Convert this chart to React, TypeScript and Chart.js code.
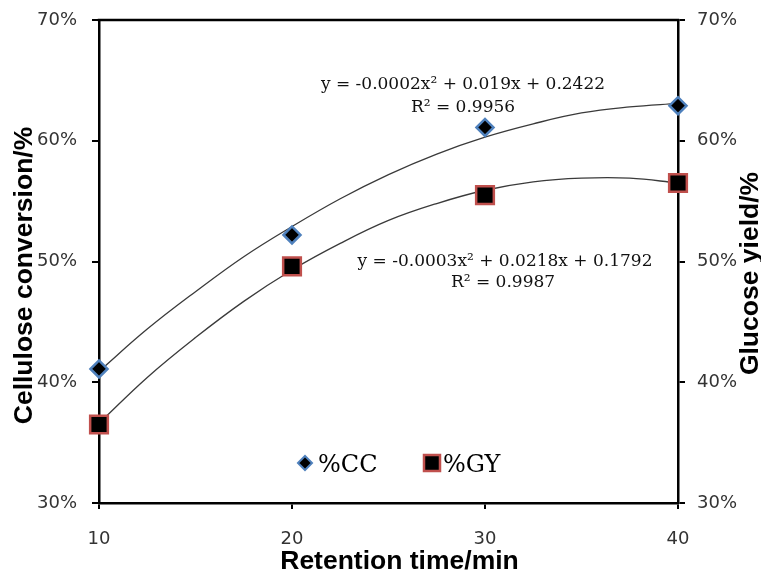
import React, { useEffect, useRef } from 'react';
import { Chart, registerables } from 'chart.js';

Chart.register(...registerables);

// ---- data ----
const retentionTime = [10, 20, 30, 40];
const ccValues = [41.1, 52.2, 61.1, 62.9];
const gyValues = [36.5, 49.6, 55.5, 56.5];

// polynomial trend lines
const trendX = [10, 12.5, 15, 17.5, 20, 22.5, 25, 27.5, 30, 32.5, 35, 37.5, 40];
const ccTrend = [40.9, 44.4, 47.5, 50.4, 52.9, 55.2, 57.2, 58.9, 60.3, 61.4, 62.3, 62.8, 63.1];
const gyTrend = [36.6, 40.4, 43.7, 46.7, 49.3, 51.5, 53.4, 54.8, 55.9, 56.6, 56.9, 56.9, 56.5];

const xMin = 10;
const xMax = 40;
const xStep = 10;
const yMin = 30;
const yMax = 70;
const yStep = 10;

const seriesLabels = ['%CC', '%GY'];
const ccEquation = ['y = -0.0002x² + 0.019x + 0.2422', 'R² = 0.9956'];
const gyEquation = ['y = -0.0003x² + 0.0218x + 0.1792', 'R² = 0.9987'];
const xTitle = 'Retention time/min';
const yTitle = 'Cellulose conversion/%';
const y2Title = 'Glucose yield/%';

const CC_FILL = '#000000';
const CC_BORDER = '#4f81bd';
const GY_FILL = '#000000';
const GY_BORDER = '#c0504d';
const TICK_COLOR = '#333333';
const TREND_COLOR = '#3a3a3a';

const TITLE_FONT = 'bold 26.5px "Liberation Sans", Arial, sans-serif';
const SERIF_FONT = '17px "DejaVu Serif", serif';
const LEGEND_FONT = '24px "DejaVu Serif", serif';

const decorations = {
  id: 'decorations',
  beforeDatasetsDraw(chart: any) {
    const { ctx, chartArea } = chart;
    ctx.save();
    ctx.strokeStyle = '#000';
    ctx.lineWidth = 2.5;
    ctx.beginPath();
    ctx.moveTo(chartArea.left - 1.25, chartArea.top);
    ctx.lineTo(chartArea.right + 1.25, chartArea.top);
    ctx.stroke();
    ctx.restore();
  },
  afterDraw(chart: any) {
    const { ctx, chartArea } = chart;
    const { left, right, top, bottom } = chartArea;
    ctx.save();
    ctx.fillStyle = '#000';
    ctx.font = TITLE_FONT;
    ctx.textAlign = 'center';
    ctx.textBaseline = 'alphabetic';
    // x title
    ctx.fillText(xTitle, (left + right) / 2 + 11, bottom + 66);
    // left title
    ctx.save();
    ctx.translate(left - 67, (top + bottom) / 2 + 14);
    ctx.rotate(-Math.PI / 2);
    ctx.fillText(yTitle, 0, 0);
    ctx.restore();
    // right title
    ctx.save();
    ctx.translate(right + 80, (top + bottom) / 2 + 12);
    ctx.rotate(-Math.PI / 2);
    ctx.fillText(y2Title, 0, 0);
    ctx.restore();

    // equations
    ctx.font = SERIF_FONT;
    ctx.fillStyle = '#111';
    ctx.textBaseline = 'middle';
    ctx.fillText(ccEquation[0], left + 364, top + 65);
    ctx.fillText(ccEquation[1], left + 364, top + 88);
    ctx.fillText(gyEquation[0], left + 406, top + 242);
    ctx.fillText(gyEquation[1], left + 404, top + 263);

    // legend
    const ly = top + 443;
    const dx = left + 206;
    ctx.fillStyle = CC_FILL;
    ctx.strokeStyle = CC_BORDER;
    ctx.lineWidth = 2;
    ctx.beginPath();
    ctx.moveTo(dx - 7, ly);
    ctx.lineTo(dx, ly - 7);
    ctx.lineTo(dx + 7, ly);
    ctx.lineTo(dx, ly + 7);
    ctx.closePath();
    ctx.fill();
    ctx.stroke();
    const sx = left + 333;
    ctx.fillStyle = GY_FILL;
    ctx.strokeStyle = GY_BORDER;
    ctx.lineWidth = 2.5;
    ctx.beginPath();
    ctx.rect(sx - 8, ly - 8, 16, 16);
    ctx.fill();
    ctx.stroke();
    ctx.fillStyle = '#000';
    ctx.font = LEGEND_FONT;
    ctx.textAlign = 'left';
    ctx.textBaseline = 'alphabetic';
    ctx.fillText(seriesLabels[0], dx + 13, ly + 9);
    ctx.fillText(seriesLabels[1], sx + 11, ly + 9);
    ctx.restore();
  },
};

export default function App() {
  const canvasRef = useRef<HTMLCanvasElement | null>(null);

  useEffect(() => {
    if (!canvasRef.current) return;
    const toPoints = (xs: number[], ys: number[]) => xs.map((x, i) => ({ x, y: ys[i] }));
    const tickFont = { family: '"DejaVu Sans", Tahoma, sans-serif', size: 18 };
    const fitVertical = (w: number) => (s: any) => {
      s.width = w;
      s.paddingTop = 0;
      s.paddingBottom = 0;
    };
    const chart = new Chart(canvasRef.current, {
      type: 'scatter',
      data: {
        datasets: [
          {
            label: seriesLabels[0],
            data: toPoints(retentionTime, ccValues),
            pointStyle: 'rectRot',
            pointRadius: 8.5,
            pointBackgroundColor: CC_FILL,
            pointBorderColor: CC_BORDER,
            pointBorderWidth: 2.5,
            showLine: false,
            clip: false,
          } as any,
          {
            label: seriesLabels[1],
            data: toPoints(retentionTime, gyValues),
            pointStyle: 'rect',
            pointRadius: 12.5,
            pointBackgroundColor: GY_FILL,
            pointBorderColor: GY_BORDER,
            pointBorderWidth: 2.5,
            showLine: false,
            clip: false,
          } as any,
          {
            label: 'ccTrend',
            data: toPoints(trendX, ccTrend),
            showLine: true,
            pointRadius: 0,
            borderColor: TREND_COLOR,
            borderWidth: 1.3,
            tension: 0.4,
          } as any,
          {
            label: 'gyTrend',
            data: toPoints(trendX, gyTrend),
            showLine: true,
            pointRadius: 0,
            borderColor: TREND_COLOR,
            borderWidth: 1.3,
            tension: 0.4,
          } as any,
        ],
      },
      options: {
        animation: false,
        responsive: false,
        maintainAspectRatio: false,
        layout: { padding: { top: 20, left: 0, right: 0, bottom: 0 } },
        plugins: { legend: { display: false }, tooltip: { enabled: false }, title: { display: false } },
        scales: {
          x: {
            type: 'linear',
            position: 'bottom',
            min: xMin,
            max: xMax,
            afterFit: (s: any) => { s.height = 70; s.paddingLeft = 0; s.paddingRight = 0; },
            ticks: { stepSize: xStep, color: TICK_COLOR, font: tickFont, padding: 20 },
            grid: { drawOnChartArea: false, drawTicks: true, tickLength: 6, color: '#000', lineWidth: 2 },
            border: { display: true, color: '#000', width: 2.5 },
          },
          y: {
            type: 'linear',
            position: 'left',
            min: yMin,
            max: yMax,
            afterFit: fitVertical(99),
            ticks: { stepSize: yStep, color: TICK_COLOR, font: tickFont, padding: 15, callback: (v: any) => v + '%' },
            grid: { drawOnChartArea: false, drawTicks: true, tickLength: 7, color: '#000', lineWidth: 2 },
            border: { display: true, color: '#000', width: 2.5 },
          },
          y2: {
            type: 'linear',
            position: 'right',
            min: yMin,
            max: yMax,
            afterFit: fitVertical(83),
            ticks: { stepSize: yStep, color: TICK_COLOR, font: tickFont, padding: 12, callback: (v: any) => v + '%' },
            grid: { drawOnChartArea: false, drawTicks: true, tickLength: 7, color: '#000', lineWidth: 2 },
            border: { display: true, color: '#000', width: 2.5 },
          },
        },
      } as any,
      plugins: [decorations],
    });
    return () => chart.destroy();
  }, []);

  return (
    <div style={{ position: 'fixed', left: 0, top: 0, width: 761, height: 573, background: '#fff' }}>
      <canvas ref={canvasRef} width={761} height={573} style={{ display: 'block' }} />
    </div>
  );
}
